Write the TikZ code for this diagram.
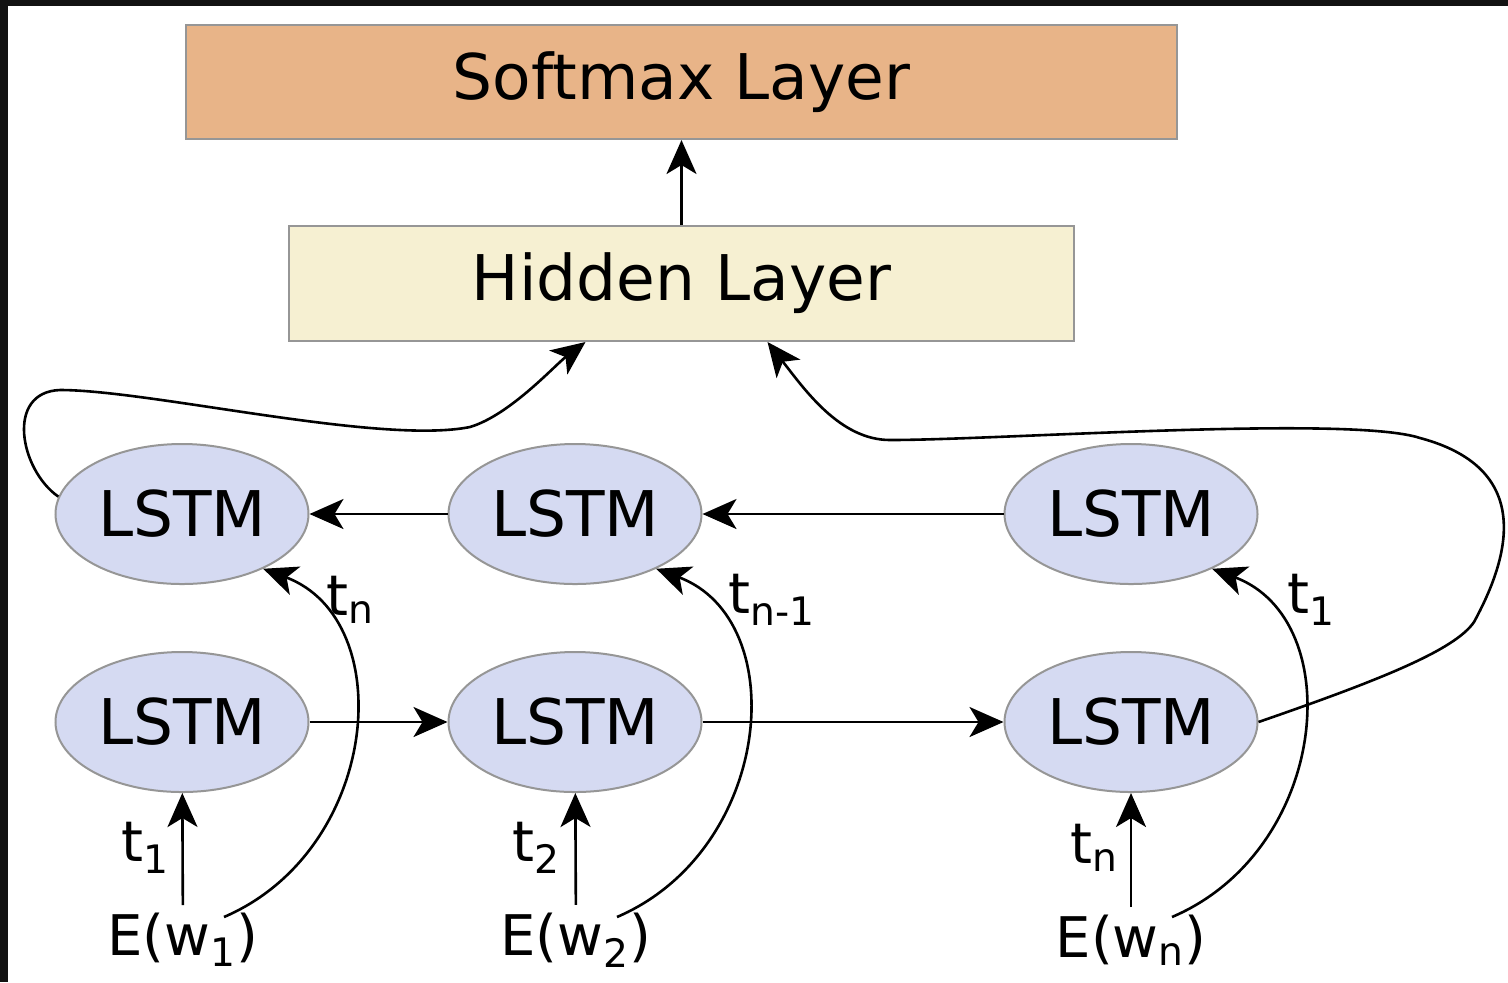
\documentclass[tikz,border=0pt]{standalone}
\usepackage{fontspec}
\setmainfont{DejaVu Sans}
\usetikzlibrary{shapes.geometric,arrows.meta,calc}

\definecolor{softcol}{HTML}{E8B488}
\definecolor{hidcol}{HTML}{F6F0D2}
\definecolor{lstmcol}{HTML}{D5DAF2}
\definecolor{edgecol}{HTML}{969696}

\tikzset{
    layer/.style={draw=edgecol, line width=1pt, rectangle, inner sep=0pt,
        font=\fontsize{31.5}{36}\selectfont},
    lstm/.style={draw=edgecol, line width=1pt, fill=lstmcol, ellipse, inner sep=0pt,
        minimum width=126.5pt, minimum height=70pt,
        font=\fontsize{31.5}{36}\selectfont},
    lbl/.style={inner sep=0pt, font=\fontsize{28}{32}\selectfont},
    emb/.style={font=\fontsize{28}{32}\selectfont},
}

\begin{document}
\begin{tikzpicture}[x=0.5pt, y=-0.5pt, line width=1.3pt,
    >={Stealth[length=17pt, width=15pt, inset=4.5pt]}]
    % 边框
    \useasboundingbox (0,0) rectangle (1508,982);
    \fill[white] (0,0) rectangle (1508,982);
    \fill[black!93] (0,0) rectangle (1508,6);
    \fill[black!93] (0,0) rectangle (8,982);

    % ========= 上两层 =========
    \node[layer, fill=softcol, minimum width=495.5pt, minimum height=57pt]
        (soft) at (681.5,82) {Softmax Layer};
    \node[layer, fill=hidcol, minimum width=392.5pt, minimum height=57.5pt]
        (hid) at (681.5,283.5) {Hidden Layer};
    \draw[->] (hid) -- (soft);

    % ========= LSTM 两行 =========
    \node[lstm] (u1) at (182,514) {LSTM};
    \node[lstm] (u2) at (575,514) {LSTM};
    \node[lstm] (u3) at (1131,514) {LSTM};
    \node[lstm] (b1) at (182,722) {LSTM};
    \node[lstm] (b2) at (575,722) {LSTM};
    \node[lstm] (b3) at (1131,722) {LSTM};

    % 输入
    \node[emb] (e1) at (183,940) {E(w\textsubscript{1})};
    \node[emb] (e2) at (576,940) {E(w\textsubscript{2})};
    \node[emb] (e3) at (1131,940) {E(w\textsubscript{n})};

    % 水平箭头
    \draw[->] (b1) -- (b2);
    \draw[->] (b2) -- (b3);
    \draw[->] (u3) -- (u2);
    \draw[->] (u2) -- (u1);

    % 竖直箭头 + 标签
    \draw[->] (e1) -- (b1);
    \draw[->] (e2) -- (b2);
    \draw[->] (e3) -- (b3);
    \node[lbl] (tb1) at (145,848) {t\textsubscript{1}};
    \node[lbl] (tb2) at (536,848) {t\textsubscript{2}};
    \node[lbl] (tb3) at (1094,848) {t\textsubscript{n}};

    % 弯曲箭头：输入到反向 LSTM
    \draw[->] ($(e1.center)+(41,-23)$) .. controls (380,850) and (400,620) .. (u1.-34);
    \draw[->] ($(e2.center)+(41,-23)$) .. controls (773,850) and (793,620) .. (u2.-34);
    \draw[->] ($(e3.center)+(41,-23)$) .. controls (1329,850) and (1349,620) .. (u3.-34);
    \node[lbl] (tu1) at (350,600) {t\textsubscript{n}};
    \node[lbl] (tu2) at (772,600) {t\textsubscript{n-1}};
    \node[lbl] (tu3) at (1311,600) {t\textsubscript{1}};

    % 两条长曲线到隐藏层
    \draw[->] (u1.172) .. controls (20,470) and (5,392) .. (60,390)
        .. controls (150,390) and (380,445) .. (470,427)
        .. controls (510,415) and (555,365) .. ([xshift=-48pt]hid.south);
    \draw[->] (b3.east) .. controls (1380,680) and (1455,650) .. (1474,622)
        .. controls (1505,565) and (1540,470) .. (1420,438)
        .. controls (1350,415) and (1000,440) .. (890,440)
        .. controls (840,440) and (805,390) .. ([xshift=43pt]hid.south);
\end{tikzpicture}
\end{document}
